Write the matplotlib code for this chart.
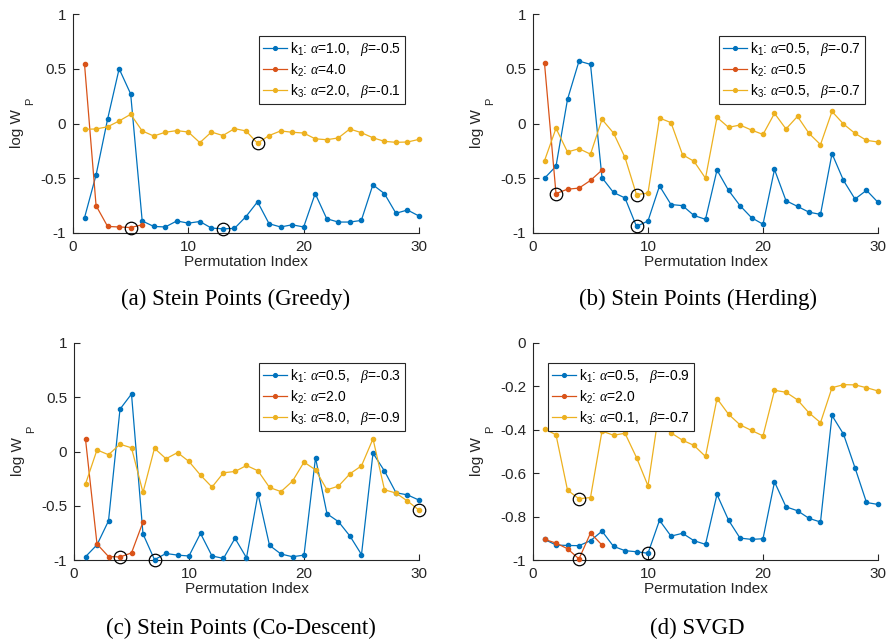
import numpy as np
import matplotlib
matplotlib.use("Agg")
import matplotlib.pyplot as plt

plt.rcParams['font.family'] = ['Liberation Sans', 'DejaVu Sans']
plt.rcParams['mathtext.fontset'] = 'custom'
plt.rcParams['mathtext.rm'] = 'Liberation Sans'
plt.rcParams['mathtext.it'] = 'Liberation Serif:italic'
plt.rcParams['mathtext.default'] = 'regular'
plt.rcParams['axes.unicode_minus'] = False

perm_index = list(range(1, 31))

# (a) Stein Points (Greedy)
a_k1 = [-0.86, -0.47, 0.04, 0.50, 0.27, -0.89, -0.94, -0.945, -0.89, -0.91,
        -0.895, -0.955, -0.962, -0.958, -0.85, -0.715, -0.915, -0.945, -0.925, -0.945,
        -0.64, -0.87, -0.90, -0.90, -0.885, -0.56, -0.64, -0.82, -0.79, -0.845]
a_k2 = [0.54, -0.75, -0.94, -0.945, -0.95, -0.925]
a_k3 = [-0.053, -0.05, -0.03, 0.023, 0.084, -0.068, -0.114, -0.08, -0.065, -0.078,
        -0.175, -0.078, -0.11, -0.047, -0.068, -0.18, -0.11, -0.068, -0.08, -0.087,
        -0.14, -0.148, -0.132, -0.05, -0.084, -0.13, -0.163, -0.172, -0.169, -0.145]

# (b) Stein Points (Herding)
b_k1 = [-0.50, -0.39, 0.22, 0.57, 0.54, -0.495, -0.63, -0.68, -0.94, -0.89,
        -0.57, -0.74, -0.75, -0.84, -0.875, -0.425, -0.61, -0.75, -0.86, -0.92,
        -0.42, -0.705, -0.757, -0.81, -0.83, -0.275, -0.52, -0.69, -0.61, -0.72]
b_k2 = [0.55, -0.64, -0.60, -0.59, -0.52, -0.425]
b_k3 = [-0.34, -0.044, -0.26, -0.23, -0.28, 0.038, -0.087, -0.31, -0.65, -0.635,
        0.05, 0.008, -0.285, -0.345, -0.50, 0.056, -0.035, -0.014, -0.06, -0.10,
        0.093, -0.05, 0.065, -0.09, -0.193, 0.11, -0.005, -0.09, -0.154, -0.169]

# (c) Stein Points (Co-Descent)
c_k1 = [-0.97, -0.86, -0.64, 0.39, 0.53, -0.76, -0.997, -0.94, -0.955, -0.963,
        -0.755, -0.963, -0.985, -0.80, -0.98, -0.39, -0.865, -0.945, -0.97, -0.955,
        -0.058, -0.574, -0.647, -0.78, -0.95, -0.015, -0.18, -0.38, -0.40, -0.448]
c_k2 = [0.113, -0.853, -0.968, -0.972, -0.935, -0.65]
c_k3 = [-0.30, 0.015, -0.03, 0.067, 0.034, -0.377, 0.03, -0.067, -0.01, -0.092,
        -0.218, -0.328, -0.196, -0.184, -0.129, -0.178, -0.331, -0.37, -0.273, -0.098,
        -0.169, -0.353, -0.319, -0.205, -0.132, 0.117, -0.353, -0.383, -0.457, -0.54]

# (d) SVGD
d_k1 = [-0.905, -0.931, -0.933, -0.934, -0.911, -0.867, -0.937, -0.957, -0.962, -0.969,
        -0.817, -0.89, -0.877, -0.911, -0.928, -0.698, -0.816, -0.899, -0.905, -0.902,
        -0.64, -0.755, -0.773, -0.808, -0.825, -0.334, -0.42, -0.575, -0.735, -0.744]
d_k2 = [-0.905, -0.922, -0.948, -0.995, -0.876, -0.931]
d_k3 = [-0.396, -0.423, -0.678, -0.718, -0.712, -0.406, -0.425, -0.416, -0.528, -0.658,
        -0.30, -0.414, -0.448, -0.472, -0.523, -0.256, -0.328, -0.377, -0.403, -0.428,
        -0.218, -0.227, -0.262, -0.322, -0.367, -0.206, -0.192, -0.193, -0.206, -0.221]

A = r'$\mathit{\alpha}$'
B = r'$\mathit{\beta}$'
legend_labels = {
    'a': ['k$_1$: ' + A + '=1.0,   ' + B + '=-0.5', 'k$_2$: ' + A + '=4.0',
          'k$_3$: ' + A + '=2.0,   ' + B + '=-0.1'],
    'b': ['k$_1$: ' + A + '=0.5,   ' + B + '=-0.7', 'k$_2$: ' + A + '=0.5',
          'k$_3$: ' + A + '=0.5,   ' + B + '=-0.7'],
    'c': ['k$_1$: ' + A + '=0.5,   ' + B + '=-0.3', 'k$_2$: ' + A + '=2.0',
          'k$_3$: ' + A + '=8.0,   ' + B + '=-0.9'],
    'd': ['k$_1$: ' + A + '=0.5,   ' + B + '=-0.9', 'k$_2$: ' + A + '=2.0',
          'k$_3$: ' + A + '=0.1,   ' + B + '=-0.7'],
}
captions = {'a': '(a) Stein Points (Greedy)', 'b': '(b) Stein Points (Herding)',
            'c': '(c) Stein Points (Co-Descent)', 'd': '(d) SVGD'}

colors = ['#0072BD', '#D95319', '#EDB120']
axc = '#262626'

W, H = 887, 643
fig = plt.figure(figsize=(W / 100, H / 100), dpi=100)

def px_axes(l, t, r, b):
    return fig.add_axes([l / W, 1 - b / H, (r - l) / W, (b - t) / H])

panels = [
    dict(data=(a_k1, a_k2, a_k3), key='a', box=(73, 14, 419, 233), ylim=(-1, 1),
         yt=[-1, -0.5, 0, 0.5, 1], leg=(259, 36), cap=(236, 299)),
    dict(data=(b_k1, b_k2, b_k3), key='b', box=(533, 14, 878, 233), ylim=(-1, 1),
         yt=[-1, -0.5, 0, 0.5, 1], leg=(719, 36), cap=(698, 299)),
    dict(data=(c_k1, c_k2, c_k3), key='c', box=(74, 343, 419, 560), ylim=(-1, 1),
         yt=[-1, -0.5, 0, 0.5, 1], leg=(259, 363), cap=(241, 628)),
    dict(data=(d_k1, d_k2, d_k3), key='d', box=(533, 343, 878, 560), ylim=(-1, 0),
         yt=[-1, -0.8, -0.6, -0.4, -0.2, 0], leg=(548, 363), cap=(697, 628)),
]

for p in panels:
    ax = px_axes(*p['box'])
    lines = []
    for ser, col, lab in zip(p['data'], colors, legend_labels[p['key']]):
        xs = perm_index[:len(ser)]
        ln, = ax.plot(xs, ser, '-', color=col, lw=0.9, marker='.', ms=6, label=lab,
                      clip_on=False, zorder=3)
        lines.append(ln)
    for ser in p['data']:
        i = int(np.argmin(ser))
        ax.plot(perm_index[i], ser[i], 'o', mfc='none', mec='black', ms=9, mew=0.9,
                clip_on=False, zorder=4)
    ax.set_xlim(0, 30)
    ax.set_ylim(*p['ylim'])
    ax.set_xticks([0, 10, 20, 30])
    ax.set_yticks(p['yt'])
    ax.set_yticklabels(['%g' % v for v in p['yt']])
    for s in ['top', 'right']:
        ax.spines[s].set_visible(False)
    for s in ['left', 'bottom']:
        ax.spines[s].set_color(axc)
        ax.spines[s].set_linewidth(0.8)
    ax.tick_params(direction='in', length=4, width=0.8, colors=axc, labelsize=11,
                   labelcolor=axc)
    ax.tick_params(axis='x', pad=5)
    ax.tick_params(axis='y', pad=5)
    ax.set_xlabel('Permutation Index', fontsize=11, color=axc, labelpad=1)
    # y label: "log W" with a strongly lowered subscript P
    bb = p['box']
    yc = (bb[1] + bb[3]) / 2
    fig.text((bb[0] - 56) / W, 1 - (yc + 5) / H, 'log W', rotation=90, ha='center',
             va='center', fontsize=11, color=axc)
    fig.text((bb[0] - 43) / W, 1 - (yc - 22) / H, 'P', rotation=90, ha='center',
             va='center', fontsize=8, color=axc)
    lx, ly = p['leg']
    leg = ax.legend(handles=lines, loc='upper left', bbox_to_anchor=(lx / W, 1 - ly / H),
                    bbox_transform=fig.transFigure, fontsize=10, frameon=True,
                    fancybox=False, edgecolor='#262626', framealpha=1,
                    handlelength=1.7, handletextpad=0.25, labelspacing=0.22,
                    borderpad=0.3, borderaxespad=0, markerscale=0.9)
    leg.get_frame().set_linewidth(0.8)
    fig.text(p['cap'][0] / W, 1 - p['cap'][1] / H, captions[p['key']],
             ha='center', va='center', fontsize=16.5, family='Liberation Serif')

fig.savefig('out.png', dpi=100)
